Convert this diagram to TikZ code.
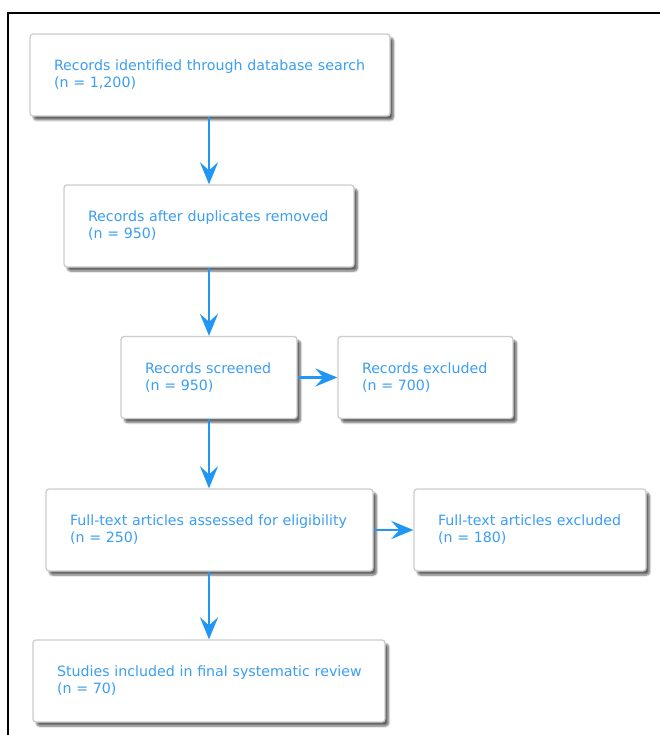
\documentclass[tikz,border=0pt]{standalone}
\usepackage{fontspec}
\setmainfont{DejaVu Sans}
\usetikzlibrary{arrows.meta,shadows.blur}
\definecolor{flowblue}{HTML}{2196F3}
\definecolor{txtblue}{HTML}{3A9EF2}
\definecolor{boxline}{HTML}{CCCCCC}
\tikzset{
  stagebox/.style={draw=boxline, line width=1.3pt, fill=white, rounded corners=3pt,
    inner xsep=24pt, inner ysep=0pt, minimum height=82pt, align=left,
    font=\fontsize{14.2}{17}\selectfont, text=txtblue,
    blur shadow={shadow xshift=3.5pt, shadow yshift=-4pt, shadow blur steps=6, shadow blur radius=2pt, shadow opacity=60}},
  flowarrow/.style={draw=flowblue, line width=2.8pt,
    -{Stealth[length=22pt, width=18pt, inset=8pt]}}
}
\begin{document}
\begin{tikzpicture}[x=1pt, y=-1pt]
\useasboundingbox (0,0) rectangle (660,735);
\begin{scope}
\clip (0,0) rectangle (660,735);
\draw[line width=2.2pt, black] (8,13) rectangle (720,800);
\end{scope}
\node[stagebox, text width=312pt] (ident) at (210,75) {\mbox{Records identified through database search}\\(n = 1,200)};
\node[stagebox, text width=242pt] (dup) at (209,226) {\mbox{Records after duplicates removed}\\(n = 950)};
\node[stagebox, text width=128pt] (screen) at (209,377.5) {\mbox{Records screened}\\(n = 950)};
\node[stagebox, text width=127pt] (excl) at (425.5,377.5) {\mbox{Records excluded}\\(n = 700)};
\node[stagebox, text width=279pt] (full) at (209.5,530) {\mbox{Full-text articles assessed for eligibility}\\(n = 250)};
\node[stagebox, text width=184pt] (fullex) at (530,530) {\mbox{Full-text articles excluded}\\(n = 180)};
\node[stagebox, text width=304pt] (incl) at (209,681) {\mbox{Studies included in final systematic review}\\(n = 70)};
\draw[flowarrow] (ident.south -| dup.north) -- (dup.north);
\draw[flowarrow] (dup.south) -- (screen.north);
\draw[flowarrow] (screen.south) -- (screen.south |- full.north);
\draw[flowarrow] (full.south -| incl.north) -- (incl.north);
\draw[flowarrow] (screen.east) -- (excl.west);
\draw[flowarrow] (full.east) -- (fullex.west);
\end{tikzpicture}
\end{document}
